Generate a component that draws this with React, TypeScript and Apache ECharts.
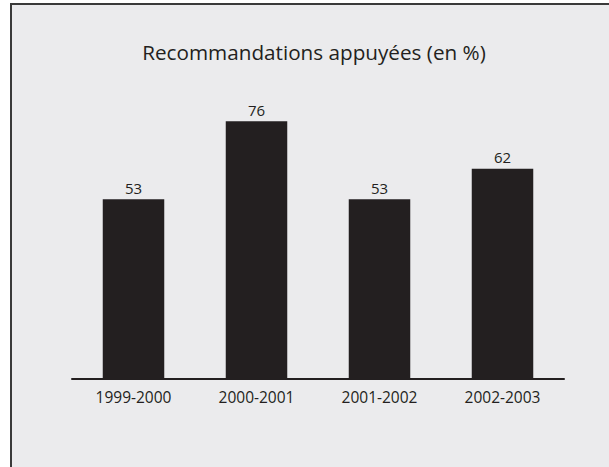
import React, { useEffect, useRef } from "react";
import * as echarts from "echarts";

// Share of recommendations supported, by fiscal year
const categories = ["1999-2000", "2000-2001", "2001-2002", "2002-2003"];
const values = [53, 76, 53, 62];
const titleText = "Recommandations appuyées (en %)";

const INK = "#231f20";
const PANEL = "#ebebed";
const FONT = "'Open Sans', 'Noto Sans', sans-serif";

export default function App() {
  const ref = useRef<HTMLDivElement>(null);

  useEffect(() => {
    document.body.style.margin = "0";
    document.body.style.background = "#ffffff";
    const chart = echarts.init(ref.current!, undefined, { renderer: "svg" });
    chart.setOption({
      animation: false,
      backgroundColor: "#ffffff",
      textStyle: { fontFamily: FONT },
      graphic: [
        {
          type: "rect",
          z: -10,
          silent: true,
          shape: { x: 11, y: 4, width: 800, height: 800 },
          style: { fill: PANEL, stroke: "#3a3a3a", lineWidth: 2 },
        },
        {
          type: "text",
          x: 314,
          y: 52,
          style: {
            text: titleText,
            fill: INK,
            font: `20.7px ${FONT}`,
            textAlign: "center",
            textVerticalAlign: "middle",
          },
        },
      ],
      grid: { left: 72, right: 45, top: 40, bottom: 88, containLabel: false },
      xAxis: {
        type: "category",
        data: categories,
        axisLine: { show: true, lineStyle: { color: INK, width: 2 } },
        axisTick: { show: false },
        axisLabel: { color: INK, fontSize: 15.5, margin: 10, fontFamily: FONT },
      },
      yAxis: {
        type: "value",
        min: 0,
        max: 100,
        show: false,
        splitLine: { show: false },
      },
      series: [
        {
          type: "bar",
          data: values,
          barWidth: "50%",
          itemStyle: { color: INK },
          label: {
            show: true,
            position: "top",
            distance: 4,
            color: INK,
            fontSize: 15,
            fontFamily: FONT,
          },
        },
      ],
    });
    return () => chart.dispose();
  }, []);

  return <div ref={ref} style={{ width: 609, height: 467 }} />;
}
